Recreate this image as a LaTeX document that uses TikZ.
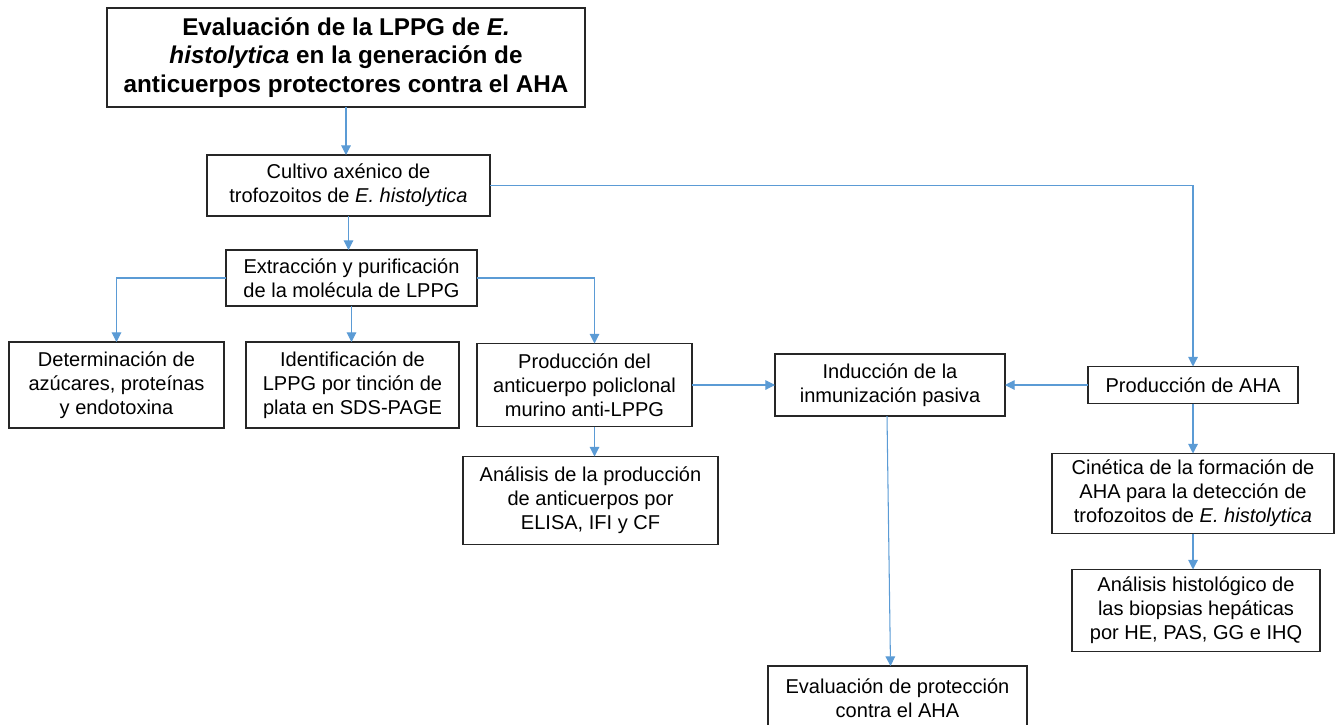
\documentclass[tikz,border=0pt]{standalone}
\usepackage{fontspec}
\setmainfont{Liberation Sans}
\usepackage{xcolor}
\usetikzlibrary{arrows.meta, positioning}
\definecolor{linkblue}{RGB}{91,155,213}

\begin{document}
\begin{tikzpicture}[
    box/.style={draw=black!85, line width=0.8pt, align=center, inner sep=2pt, outer sep=0pt,
                font=\fontsize{11.4}{13.7}\selectfont},
    titlebox/.style={box, line width=1.1pt, font=\fontsize{13.8}{16.2}\selectfont\bfseries},
    arr/.style={-{Triangle[length=5.5pt,width=5.5pt]}, line width=0.6pt, color=linkblue},
]
\useasboundingbox (0,0) rectangle (26.82,-14.48);

% --- Top ---
\node[titlebox, minimum width=9.56cm, minimum height=1.98cm] (title) at (6.92,-1.15)
    {Evaluación de la LPPG de \textit{E.}\\ \textit{histolytica} en la generación de\\ anticuerpos protectores contra el AHA};
\node[box, minimum width=5.66cm, minimum height=1.22cm, below=0.96cm of title, xshift=0.05cm] (cult)
    {Cultivo axénico de\\ trofozoitos de \textit{E. histolytica}};
\node[box, minimum width=5.02cm, minimum height=1.12cm, below=0.68cm of cult, xshift=0.06cm] (extr)
    {Extracción y purificación\\ de la molécula de LPPG};

% --- LPPG row ---
\node[box, minimum width=4.26cm, minimum height=1.72cm, below=0.72cm of extr, xshift=0.02cm] (ident)
    {Identificación de\\ LPPG por tinción de\\ plata en SDS-PAGE};
\node[box, minimum width=4.30cm, minimum height=1.72cm, left=0.44cm of ident] (deter)
    {Determinación de\\ azúcares, proteínas\\ y endotoxina};
\node[box, minimum width=4.30cm, minimum height=1.66cm, right=0.36cm of ident] (prodac)
    {Producción del\\ anticuerpo policlonal\\ murino anti-LPPG};
\node[box, minimum width=5.10cm, minimum height=1.76cm, below=0.60cm of prodac, xshift=0.12cm] (analis)
    {Análisis de la producción\\ de anticuerpos por\\ ELISA, IFI y CF};

% --- AHA side ---
\node[box, minimum width=4.60cm, minimum height=1.24cm, right=1.66cm of prodac] (induc)
    {Inducción de la\\ inmunización pasiva};
\node[box, minimum width=4.20cm, minimum height=0.74cm, right=1.66cm of induc] (prodaha)
    {Producción de AHA};
\node[box, minimum width=5.64cm, minimum height=1.60cm, below=1.0cm of prodaha] (cinet)
    {Cinética de la formación de\\ AHA para la detección de\\ trofozoitos de \textit{E. histolytica}};
\node[box, minimum width=4.96cm, minimum height=1.64cm, below=0.72cm of cinet, xshift=0.06cm] (histo)
    {Análisis histológico de\\ las biopsias hepáticas\\ por HE, PAS, GG e IHQ};
\node[box, minimum width=5.18cm, minimum height=1.28cm, below=5.0cm of induc, xshift=0.15cm] (eval)
    {Evaluación de protección\\ contra el AHA};

% --- Arrows ---
\draw[arr] (title.south) -- (title.south |- cult.north);
\draw[arr] (cult.south) -- (cult.south |- extr.north);
\draw[arr] (cult.east) -| (prodaha.north);
\draw[arr] (extr.west) -| (deter.north);
\draw[arr] (extr.south) -- (extr.south |- ident.north);
\draw[arr] (extr.east) -| ([xshift=0.2cm]prodac.north);
\draw[arr] ([xshift=0.2cm]prodac.south) -- ([xshift=0.2cm]prodac.south |- analis.north);
\draw[arr] (prodac.east) -- (induc.west);
\draw[arr] (prodaha.west) -- (induc.east);
\draw[arr] (prodaha.south) -- (prodaha.south |- cinet.north);
\draw[arr] (cinet.south) -- (cinet.south |- histo.north);
\draw[arr] ([xshift=-0.06cm]induc.south) -- ([xshift=-0.14cm]eval.north);

\end{tikzpicture}
\end{document}
